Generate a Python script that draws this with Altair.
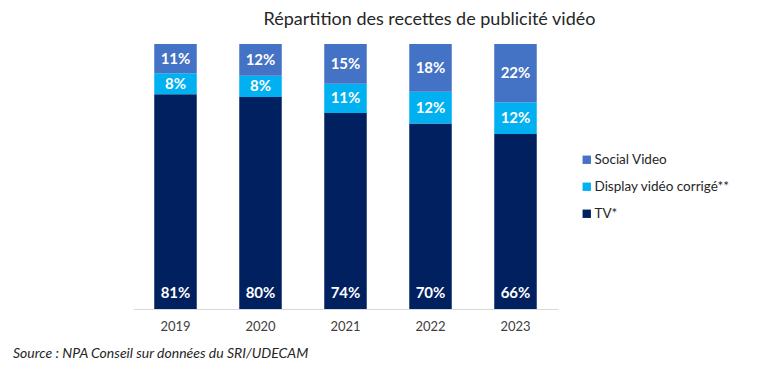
import altair as alt
import pandas as pd

years = ["2019", "2020", "2021", "2022", "2023"]
tv = [81, 80, 74, 70, 66]
display = [8, 8, 11, 12, 12]
social = [11, 12, 15, 18, 22]

series_names = ["Social Video", "Display vidéo corrigé**", "TV*"]
series_colors = ["#4472C4", "#00B0F0", "#002060"]

rows = []
for i, y in enumerate(years):
    base = 0
    for name, vals, order in [("TV*", tv, 0), ("Display vidéo corrigé**", display, 1), ("Social Video", social, 2)]:
        v = vals[i]
        rows.append({"year": y, "serie": name, "value": v, "order": order,
                     "mid": base + v / 2, "label": f"{v}%"})
        base += v
df = pd.DataFrame(rows)

FONT = "Lato"
W, H = 425, 265

xenc = alt.X("year:N", title=None,
             scale=alt.Scale(paddingInner=0.5, paddingOuter=0.25),
             axis=alt.Axis(labelAngle=0, ticks=False, domainColor="#D9D9D9",
                           labelFontSize=13, labelColor="#404040", labelFont=FONT,
                           labelPadding=11))

bars = alt.Chart(df).mark_bar().encode(
    x=xenc,
    y=alt.Y("value:Q", stack="zero", scale=alt.Scale(domain=[0, 100], nice=False), axis=None),
    color=alt.Color("serie:N", scale=alt.Scale(domain=series_names, range=series_colors),
                    legend=alt.Legend(title=None, orient="none", legendX=447, legendY=109,
                                      symbolType="square", symbolSize=70, symbolStrokeWidth=0,
                                      labelFontSize=13.5, labelFont=FONT, labelColor="#262626",
                                      rowPadding=12, labelOffset=1)),
    order=alt.Order("order:Q"),
)

upper = alt.Chart(df[df["serie"] != "TV*"]).mark_text(
    color="white", fontWeight="bold", fontSize=15, font=FONT, baseline="middle"
).encode(x=alt.X("year:N"), y=alt.Y("mid:Q"), text="label:N")

lower = alt.Chart(df[df["serie"] == "TV*"]).mark_text(
    color="white", fontWeight="bold", fontSize=15, font=FONT, baseline="middle", dy=-16
).encode(x=alt.X("year:N"), y=alt.datum(0), text="label:N")

source = alt.Chart(pd.DataFrame({"t": ["Source : NPA Conseil sur données du SRI/UDECAM"]})).mark_text(
    align="left", baseline="middle", fontStyle="italic", fontSize=14, font=FONT, color="#262626"
).encode(x=alt.value(-120), y=alt.value(310), text="t:N")

chart = alt.layer(bars, upper, lower, source).properties(
    width=W, height=H,
    title=alt.TitleParams("Répartition des recettes de publicité vidéo", font=FONT,
                          fontSize=18, fontWeight="normal", color="#262626",
                          anchor="middle", dx=84, offset=15),
    padding={"left": 125, "top": 36, "right": 202, "bottom": 55},
    autosize=alt.AutoSizeParams(type="none"),
).configure_view(stroke=None)

chart.save("out.html", embed_options={"renderer": "svg", "actions": False})
